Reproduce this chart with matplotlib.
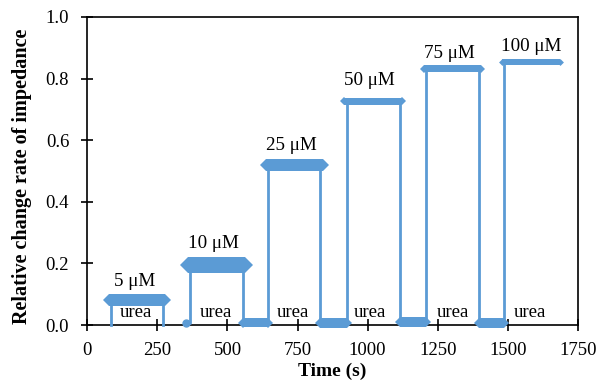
import numpy as np
import matplotlib
matplotlib.use("Agg")
import matplotlib.pyplot as plt

# ---- data ----
conc_labels = ["5 \u03bcM", "10 \u03bcM", "25 \u03bcM", "50 \u03bcM", "75 \u03bcM", "100 \u03bcM"]
plateau_start = [84, 366, 645, 925, 1208, 1486]
plateau_end = [271, 555, 832, 1115, 1398, 1678]
plateau_level = [0.083, 0.195, 0.520, 0.726, 0.832, 0.853]
plateau_lo = [0.063, 0.170, 0.500, 0.714, 0.820, 0.843]
plateau_hi = [0.102, 0.220, 0.540, 0.738, 0.845, 0.864]

baseline_start = [555, 832, 1115, 1398]
baseline_end = [645, 925, 1208, 1486]
baseline_level = [0.006, 0.006, 0.008, 0.006]
baseline_lo = [-0.008, -0.010, -0.008, -0.010]
baseline_hi = [0.024, 0.022, 0.026, 0.022]

dot_time = [352]
dot_value = [0.006]

label_x = [170, 449, 729, 1008, 1293, 1585]
label_y = [0.140, 0.266, 0.584, 0.795, 0.880, 0.904]
urea_x = [174, 459, 733, 1008, 1304, 1579]
urea_y = [0.042, 0.042, 0.042, 0.042, 0.042, 0.042]

xticks = [0, 250, 500, 750, 1000, 1250, 1500, 1750]
yticks = [0.0, 0.2, 0.4, 0.6, 0.8, 1.0]

blue = "#5B9BD5"
plt.rcParams["font.family"] = ["Liberation Serif", "DejaVu Serif"]

fig = plt.figure(figsize=(6.0, 3.82), dpi=100)
ax_h_frac = 0.8063
ax = fig.add_axes([0.1455, 0.1492, 0.8175, ax_h_frac])

# thin trace: build step path from the plateau/baseline lists
tt, vv = [], []
tt += [plateau_start[0], plateau_start[0], plateau_end[0], plateau_end[0], np.nan]
vv += [0.0, plateau_level[0], plateau_level[0], 0.0, np.nan]
tt += [dot_time[0], plateau_start[1]]
vv += [dot_value[0], dot_value[0]]
for i in range(1, len(plateau_start)):
    tt += [plateau_start[i], plateau_start[i], plateau_end[i]]
    vv += [vv[-1], plateau_level[i], plateau_level[i]]
    if i - 1 < len(baseline_start):
        tt += [baseline_start[i - 1], baseline_end[i - 1]]
        vv += [baseline_level[i - 1], baseline_level[i - 1]]
ax.plot(tt, vv, color=blue, lw=2.0, zorder=3, clip_on=False)

pts_per_unit = ax_h_frac * 3.82 * 72  # points per y-data unit (ylim 0..1)

def band(s, e, lo, hi):
    ax.fill_between([s, e], [lo, lo], [hi, hi], color=blue, lw=0, zorder=3, clip_on=False)
    mid = (lo + hi) / 2
    h_pts = (hi - lo) * pts_per_unit
    ax.plot([s, e], [mid, mid], ls="none", marker="D", ms=max(h_pts * 0.72, 3.5),
            color=blue, mew=0, zorder=3, clip_on=False)

for s, e, lo, hi in zip(plateau_start, plateau_end, plateau_lo, plateau_hi):
    band(s - 8, e + 8, lo, hi)
for s, e, lo, hi in zip(baseline_start, baseline_end, baseline_lo, baseline_hi):
    band(s, e, lo, hi)
ax.plot(dot_time, dot_value, ls="none", marker="o", ms=5, color=blue, zorder=3, clip_on=False)

for x, y, t in zip(label_x, label_y, conc_labels):
    ax.text(x, y, t, ha="center", va="center", fontsize=13.8, color="black", zorder=4)
for x, y in zip(urea_x, urea_y):
    ax.text(x, y, "urea", ha="center", va="center", fontsize=13.5, color="black", zorder=4)

ax.set_xlim(0, 1750)
ax.set_ylim(0, 1.0)
ax.set_xticks(xticks)
ax.set_xticklabels([str(v) for v in xticks])
ax.set_yticks(yticks)
ax.set_yticklabels([f"{v:.1f}" for v in yticks])
ax.tick_params(direction="inout", length=8, width=1.2, labelsize=13.5, colors="black")
ax.tick_params(axis="x", pad=8)
ax.tick_params(axis="y", pad=9)
for sp in ax.spines.values():
    sp.set_linewidth(1.2)
    sp.set_zorder(2)

ax.set_xlabel("Time (s)", fontsize=14, fontweight="bold", labelpad=3)
ax.set_ylabel("Relative change rate of impedance", fontsize=14.5, fontweight="bold")
ax.yaxis.set_label_coords(-0.112, 0.484)

fig.savefig("out.png", dpi=100)
